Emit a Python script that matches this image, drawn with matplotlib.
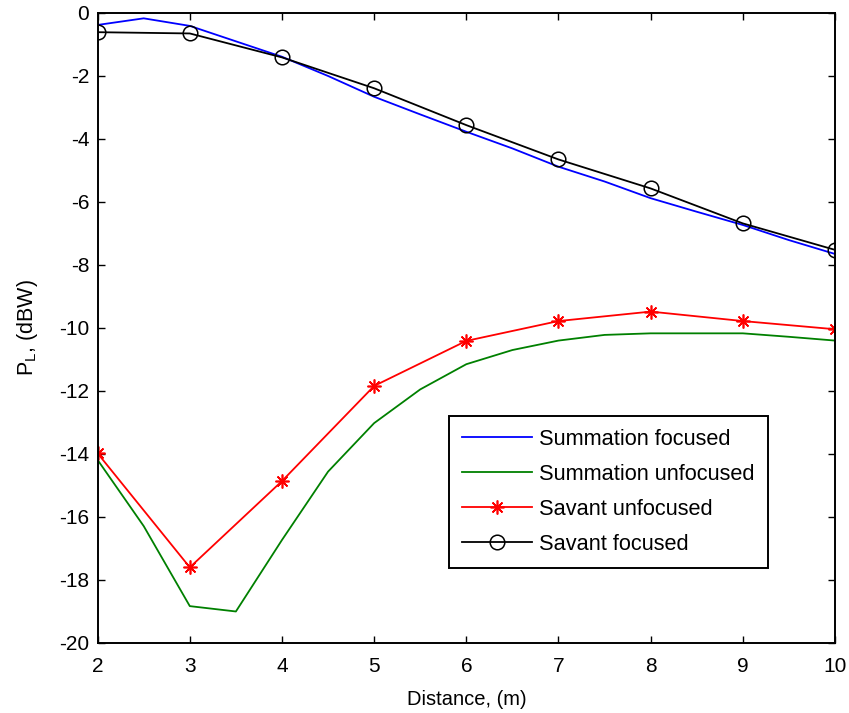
import matplotlib
matplotlib.use("Agg")
import matplotlib.pyplot as plt

plt.rcParams['font.family'] = ['Liberation Sans', 'DejaVu Sans']
plt.rcParams['axes.unicode_minus'] = False
plt.rcParams['mathtext.default'] = 'regular'

# Distance grids (m)
dist_fine = [2, 2.5, 3, 3.5, 4, 4.5, 5, 5.5, 6, 6.5, 7, 7.5, 8, 8.5, 9, 9.5, 10]
dist_coarse = [2, 3, 4, 5, 6, 7, 8, 9, 10]

# Received power P_L (dBW)
summation_focused = [-0.38, -0.17, -0.41, -0.90, -1.39, -2.00, -2.66, -3.22, -3.77,
                     -4.30, -4.88, -5.35, -5.88, -6.31, -6.73, -7.21, -7.65]
summation_unfocused = [-14.19, -16.29, -18.83, -19.00, -16.73, -14.56, -13.02, -11.95, -11.15,
                       -10.70, -10.40, -10.22, -10.17, -10.17, -10.17, -10.28, -10.40]
savant_unfocused = [-13.98, -17.60, -14.86, -11.84, -10.41, -9.78, -9.48, -9.78, -10.04]
savant_focused = [-0.61, -0.65, -1.41, -2.39, -3.56, -4.65, -5.57, -6.68, -7.52]

x_ticks = [2, 3, 4, 5, 6, 7, 8, 9, 10]
y_ticks = [0, -2, -4, -6, -8, -10, -12, -14, -16, -18, -20]

fig = plt.figure(figsize=(8.49, 7.13), dpi=100)
ax = fig.add_axes([0.115, 0.0982, 0.8685, 0.8836])

lw = 1.3
ax.plot(dist_fine, summation_focused, color='#0000ff', lw=lw, label='Summation focused')
ax.plot(dist_fine, summation_unfocused, color='#008000', lw=lw, label='Summation unfocused')
ax.plot(dist_coarse, savant_unfocused, color='#ff0000', lw=lw, marker=(8, 2, 0),
        markersize=10, markeredgewidth=1.2, label='Savant unfocused')
ax.plot(dist_coarse, savant_focused, color='black', lw=lw, marker='o', markersize=10.5,
        markerfacecolor='none', markeredgewidth=1.1, label='Savant focused')

ax.set_xlim(2, 10)
ax.set_ylim(-20, 0)
ax.set_xticks(x_ticks)
ax.set_yticks(y_ticks)
ax.tick_params(direction='in', length=5, width=1, top=True, right=True, labelsize=15)
ax.tick_params(axis='x', pad=10)
ax.tick_params(axis='y', pad=6)
for sp in ax.spines.values():
    sp.set_linewidth(1.4)

ax.set_xlabel('Distance, (m)', fontsize=14.5, labelpad=10)
ax.set_ylabel('P$_L$, (dBW)', fontsize=15.5, labelpad=14)

leg = ax.legend(loc='upper left', bbox_to_anchor=(0.4765, 0.1254, 0.4325, 0.2349),
                mode='expand', fontsize=15.7, numpoints=1, fancybox=False,
                framealpha=1, edgecolor='black', handlelength=3.2,
                handletextpad=0.33, labelspacing=0.64, borderpad=0.6,
                borderaxespad=0)
leg.get_frame().set_linewidth(1.4)

fig.savefig('out.png', dpi=100)
